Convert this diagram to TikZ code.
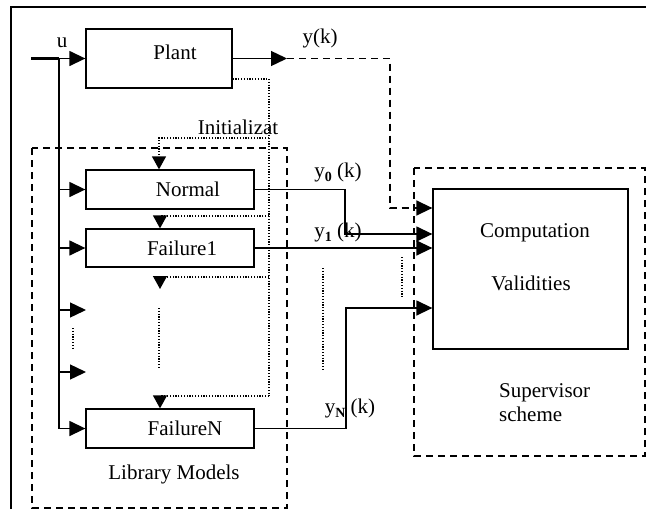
\documentclass[tikz,border=0pt]{standalone}
\usepackage{fontspec}
\setmainfont{Liberation Serif}
\usetikzlibrary{arrows.meta}
\newcommand\ysub[1]{\raisebox{-4pt}{\fontsize{14}{14}\selectfont\bfseries #1}}
\begin{document}
\begin{tikzpicture}[x=1pt,y=-1pt,
  font=\fontsize{21}{24}\selectfont,
  blk/.style={draw, line width=1.3pt, inner sep=0pt, minimum width=168pt, minimum height=39pt},
  txt/.style={inner sep=0pt},
  conn/.style={line width=1.4pt},
  tip/.style={-{Triangle[length=16pt,width=15pt]}},
  dtip/.style={-{Triangle[length=13pt,width=14pt]}},
  dashln/.style={line width=1.5pt, dash pattern=on 7pt off 5pt},
  dotln/.style={line width=1.3pt, dash pattern=on 1.2pt off 1.6pt}]
\useasboundingbox (0,0) rectangle (647,509);
% outer frame
\draw[line width=1.6pt] (11,509) -- (11,7) -- (646,7);
% boxes
\node[blk, minimum width=146pt, minimum height=59pt] (plant) at (159,58.5) {\hspace*{32pt}\raisebox{12pt}{Plant}};
\node[blk] (norm) at (170,189.5) {\hspace*{36pt}Normal};
\node[blk, minimum height=38pt] (fail1) at (170,248) {\hspace*{24pt}Failure1};
\node[blk] (failN) at (170,428.5) {\hspace*{30pt}FailureN};
\node[blk, minimum width=195pt, minimum height=160pt] (comp) at (530.5,269) {};
\node[txt] (tcomp) at (535,233) {Computation};
\node[txt] (tval) at (531,283) {Validities};
\node[txt, align=left, anchor=west] (tsup) at (499,403) {Supervisor\\scheme};
\node[txt] (tlib) at (174,474) {Library Models};
% dashed groups
\draw[dashln] (32,148) rectangle (287,508);
\draw[dashln] (414,168) rectangle (645,456);
% input bus
\coordinate (in0) at (31,58.5);
\coordinate (bus0) at (59,58.5);
\coordinate (e1) at (86,310);
\coordinate (e2) at (86,372);
\draw[line width=2.5pt] (in0) -- (bus0);
\draw[conn,tip] (bus0) -- (plant.west);
\draw[conn] (bus0) -- (bus0 |- failN.west);
\draw[conn,tip] (bus0 |- norm.west) -- (norm.west);
\draw[conn,tip] (bus0 |- fail1.west) -- (fail1.west);
\draw[conn,tip] (bus0 |- e1) -- (e1);
\draw[conn,tip] (bus0 |- e2) -- (e2);
\draw[conn,tip] (bus0 |- failN.west) -- (failN.west);
% plant output
\coordinate (yk) at (287,58.5);
\draw[conn,tip] (plant.east) -- (yk);
\draw[dashln,tip] (yk) -- (390,58.5) -- (390,208) -- (comp.west |- 0,208);
% model outputs
\draw[conn,tip] (norm.east) -- (345,189.5) -- (345,234) -- (comp.west |- 0,234);
\draw[conn,tip] (fail1.east) -- (comp.west |- fail1.east);
\draw[conn,tip] (failN.east) -- (346,428.5) -- (346,308) -- (comp.west |- 0,308);
% initialisation (dotted)
\coordinate (d0) at (plant.east |- 0,79);
\coordinate (f2) at (160,289);
\draw[dotln] (d0) -- (269,79) -- (269,396);
\draw[dotln,dtip] (269,138) -- (159,138) -- (159,0 |- norm.north);
\draw[dotln,dtip] (269,216) -- (160,216) -- (160,0 |- fail1.north);
\draw[dotln,dtip] (269,277) -- (160,277) -- (f2);
\draw[dotln,dtip] (269,396) -- (160,396) -- (160,0 |- failN.north);
% ellipsis dots
\draw[dotln] (73,328) -- (73,349);
\draw[dotln] (159,308) -- (159,369);
\draw[dotln] (323,268) -- (323,369);
\draw[dotln] (402,257) -- (402,298);
% labels
\node[txt] (lu) at (62,43) {u};
\node[txt] (lyk) at (320,38) {y(k)};
\node[txt] (linit) at (238,127) {Initializat};
\node[txt] (ly0) at (338,172) {y\ysub{0} (k)};
\node[txt] (ly1) at (338,232) {y\ysub{1} (k)};
\node[txt] (lyN) at (350,408) {y\ysub{N} (k)};
\end{tikzpicture}
\end{document}
